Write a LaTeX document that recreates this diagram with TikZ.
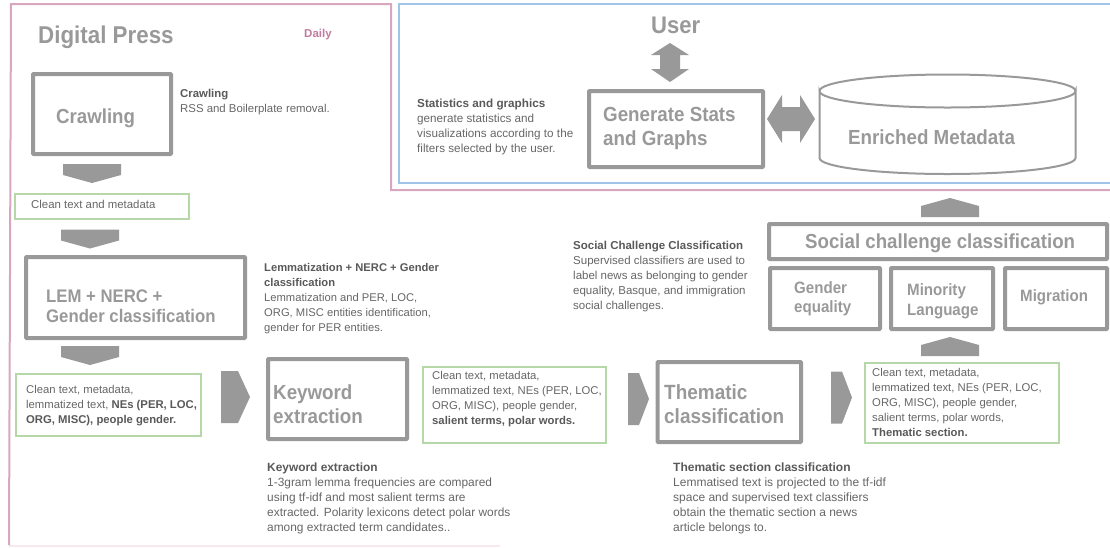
\documentclass[tikz,border=0pt]{standalone}
\usepackage{fontspec}
\setmainfont{Liberation Sans}
\newfontfamily\bigface[FakeStretch=0.92]{Liberation Sans}
\definecolor{pinkline}{HTML}{D9A6C0}
\definecolor{blueline}{HTML}{9FC5E8}
\definecolor{greenline}{HTML}{B6D7A8}
\definecolor{greyblock}{HTML}{999999}
\definecolor{bodytext}{HTML}{666666}
\definecolor{headtext}{HTML}{595959}
\definecolor{dailytext}{HTML}{C27BA0}
\tikzset{
  x=1pt,y=-1pt,
  frame/.style={line width=2pt},
  procbox/.style={draw=greyblock,line width=4pt,rounded corners=0.8pt,inner sep=0pt},
  databox/.style={draw=greenline,line width=1.5pt,inner sep=0pt},
  body/.style={anchor=north west,inner sep=0pt,align=left,text=bodytext,font=\fontsize{#1}{15}\selectfont},
  body/.default=11.2,
  big/.style={anchor=base west,inner sep=0pt,text=greyblock,font=\bigface\fontsize{#1}{#1}\selectfont\bfseries},
  block/.style={fill=greyblock,draw=none},
}
\newcommand{\hd}[1]{\textbf{\textcolor{headtext}{#1}}}
\newcommand{\dn}[2]{\fill[block] (#1,#2)--(#1+58,#2)--(#1+58,#2+11)--(#1+29,#2+19)--(#1,#2+11)--cycle;}
\newcommand{\up}[2]{\fill[block] (#1,#2+19)--(#1+58,#2+19)--(#1+58,#2+8)--(#1+29,#2)--(#1,#2+8)--cycle;}
\newcommand{\rt}[2]{\fill[block] (#1,#2)--(#1+17,#2)--(#1+29,#2+26)--(#1+17,#2+52)--(#1,#2+52)--cycle;}
\newcommand{\rts}[2]{\fill[block] (#1,#2)--(#1+11,#2)--(#1+21,#2+26)--(#1+11,#2+52)--(#1,#2+52)--cycle;}
\newcommand{\boxat}[6][procbox]{\node[#1,minimum width=#4-#2,minimum height=#5-#3] (#6) at ({(#2+#4)/2},{(#3+#5)/2}) {};}
\begin{document}
\begin{tikzpicture}
\useasboundingbox (0,0) rectangle (1110,547);
% frames
\draw[frame,pinkline!25] (9,545.5)--(500,545.5);
\draw[frame,pinkline] (1110,190)--(391,190)--(391,4)--(11,4)--(9,545);
\draw[frame,blueline] (1110,4)--(399,4)--(399,183)--(1110,183);
% left column
\node[big=24.3] (press) at (38,43) {Digital Press};
\node[anchor=base west,inner sep=0pt,text=dailytext,font=\fontsize{11.5}{14}\selectfont\bfseries] (daily) at (304,37) {Daily};
\boxat{33}{74}{171}{154}{crawlbox}
\node[big=20.3] (crawl) at (56,123.5) {Crawling};
\node[body=11.4] (crawltxt) at (180,89) {\hd{Crawling}\\RSS and Boilerplate removal.};
\dn{63}{164}
\boxat[databox]{15}{194}{189}{219}{clean}
\node[body=11.4] (cleantxt) at (31,200) {Clean text and metadata};
\dn{61}{229.5}
\boxat{26}{257}{245}{338}{lembox}
\node[big=18.2] (lem) at (46,302) {LEM + NERC +};
\node[big=18.2] (lemb) at (46,322) {Gender classification};
\node[body] (lemtxt) at (264,263) {\hd{Lemmatization + NERC + Gender}\\\hd{classification}\\Lemmatization and PER, LOC,\\ORG, MISC entities identification,\\gender for PER entities.};
\dn{61}{346}
\boxat[databox]{16}{374}{201}{436}{d1}
\node[body=11.3] (d1txt) at (26,385) {Clean text, metadata,\\lemmatized text, \hd{NEs (PER, LOC,}\\\hd{ORG, MISC), people gender.}};
\rt{221}{371}
% keyword
\boxat{268}{359}{407}{439}{kwbox}
\node[big=20.4] (kw) at (273,399) {Keyword};
\node[big=20.4] (kwb) at (273,423) {extraction};
\node[body=11.9] (kwtxt) at (267,463) {\hd{Keyword extraction}\\1-3gram lemma frequencies are compared\\using tf-idf and most salient terms are\\extracted. Polarity lexicons detect polar words\\among extracted term candidates..};
\boxat[databox]{423}{367}{606}{443}{d2}
\node[body=11.3] (d2txt) at (432,371) {Clean text, metadata,\\lemmatized text, NEs (PER, LOC,\\ORG, MISC), people gender,\\\hd{salient terms, polar words.}};
\rts{628}{373}
% thematic
\boxat{657.5}{362}{801}{442}{thbox}
\node[big=20.6] (th) at (664,399) {Thematic};
\node[big=20.6] (thb) at (664,423) {classification};
\node[body=12] (thtxt) at (673,463) {\hd{Thematic section classification}\\Lemmatised text is projected to the tf-idf\\space and supervised text classifiers\\obtain the thematic section a news\\article belongs to.};
\rts{831}{371.5}
\boxat[databox]{865}{363}{1059}{443}{d3}
\node[body=11.3] (d3txt) at (872,368) {Clean text, metadata,\\lemmatized text, NEs (PER, LOC,\\ORG, MISC), people gender,\\salient terms, polar words,\\\hd{Thematic section.}};
\up{921}{337}
\up{921}{198}
% social
\boxat{769}{224}{1107}{259}{socbox}
\node[big=20.3] (soc) at (805,248) {Social challenge classification};
\boxat{770}{268}{880}{329}{gebox}
\node[big=16.4] (ge) at (794,293) {Gender};
\node[big=16.4] (geb) at (794,312) {equality};
\boxat{891}{268}{993}{329}{mlbox}
\node[big=16.4] (ml) at (907,295) {Minority};
\node[big=16.4] (mlb) at (907,315) {Language};
\boxat{1005}{268}{1107}{329}{mgbox}
\node[big=16.4] (mg) at (1020,301) {Migration};
\node[body=11.5] (soctxt) at (573,241) {\hd{Social Challenge Classification}\\Supervised classifiers are used to\\label news as belonging to gender\\equality, Basque, and immigration\\social challenges.};
% top right
\node[big=24] (user) at (651,33) {User};
\fill[block] (670,43)--(689,55)--(680,55)--(680,69)--(689,69)--(670,82)--(651,69)--(660,69)--(660,55)--(651,55)--cycle;
\boxat{589}{91}{763}{167}{genbox}
\node[big=20.4] (gen) at (603,121) {Generate Stats};
\node[big=20.4] (genb) at (603,145) {and Graphs};
\node[body=11.7] (gentxt) at (417,99) {\hd{Statistics and graphics}\\generate statistics and\\visualizations according to the\\filters selected by the user.};
\fill[block] (767,119)--(782,95)--(782,107)--(800,107)--(800,95)--(815,119)--(800,143)--(800,131)--(782,131)--(782,143)--cycle;
\draw[draw=greyblock,line width=2pt] (819.5,91) arc[start angle=180,end angle=0,x radius=128,y radius=16.5] -- (1075.5,158) arc[start angle=0,end angle=180,x radius=128,y radius=16] -- cycle;
\draw[draw=greyblock,line width=2pt] (819.5,91) arc[start angle=180,end angle=360,x radius=128,y radius=16.5];
\node[big=20.4] (meta) at (848,144) {Enriched Metadata};
\end{tikzpicture}
\end{document}
